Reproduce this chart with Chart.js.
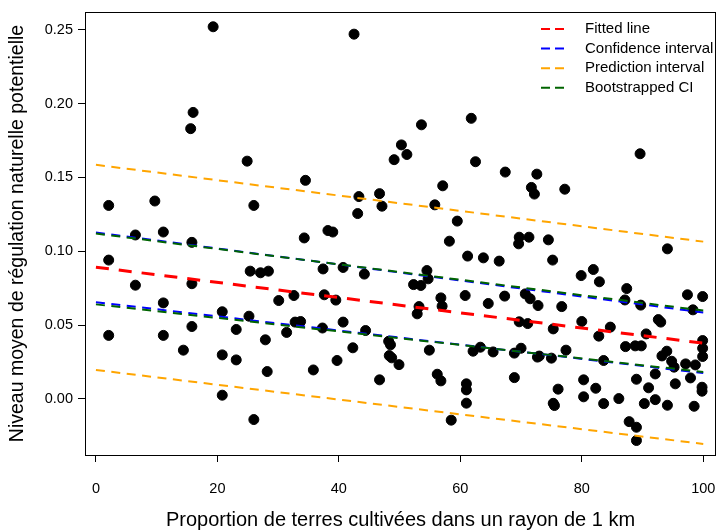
<!DOCTYPE html>
<html lang="fr">
<head>
    <meta charset="UTF-8">
    <title>Régulation naturelle potentielle</title>
    <script src="https://cdn.jsdelivr.net/npm/chart.js"></script>
    <style>
        body {
            margin: 0;
            padding: 0;
            background: white;
        }
        .chart-box {
            width: 717px;
            height: 530px;
        }
    </style>
</head>
<body>
    <div class="chart-box">
        <canvas id="regChart" width="717" height="530"></canvas>
    </div>

    <script>
        // observed points (proportion cultivated, regulation level)
        const xObs = [
            2.1, 2.1, 2.1, 9.7, 6.5, 11.1, 6.5, 11.1, 11.1, 14.4,
            16.0, 15.6, 19.3, 24.9, 26.0, 15.8, 15.8, 15.8, 25.4, 27.1,
            28.4, 32.6, 30.1, 20.8, 25.2, 23.1, 27.9, 31.4, 32.8, 20.8,
            23.1, 28.2, 20.8, 26.0, 42.5, 50.3, 49.1, 34.5, 46.7, 43.3,
            47.1, 43.1, 38.2, 39.0, 34.3, 37.4, 40.7, 44.2, 37.6, 39.5,
            33.7, 37.3, 40.7, 44.4, 42.3, 48.2, 48.5, 48.3, 48.7, 49.9,
            39.7, 35.8, 46.7, 53.6, 61.8, 51.2, 62.5, 67.4, 57.1, 55.8,
            59.5, 58.2, 61.2, 63.8, 66.4, 54.5, 54.7, 52.3, 53.5, 67.3,
            60.8, 64.6, 56.8, 57.0, 53.2, 52.9, 54.9, 62.1, 63.3, 65.4,
            56.2, 56.8, 61.0, 61.0, 61.0, 58.5, 72.6, 71.7, 72.2, 77.2,
            69.7, 71.3, 69.6, 74.5, 75.2, 79.9, 81.9, 82.9, 70.7, 71.5,
            72.8, 76.7, 69.7, 71.1, 75.3, 80.0, 82.8, 84.7, 68.9, 70.0,
            72.7, 73.0, 75.0, 77.4, 83.6, 68.9, 76.1, 75.3, 75.5, 80.3,
            80.3, 82.3, 83.6, 89.6, 94.1, 87.4, 87.1, 89.7, 97.4, 99.9,
            98.3, 92.6, 93.0, 90.6, 87.2, 88.8, 89.8, 94.0, 93.2, 94.8,
            95.2, 97.1, 98.7, 99.9, 99.9, 99.9, 92.1, 97.9, 95.4, 89.0,
            91.0, 99.8, 99.8, 86.1, 90.3, 92.1, 94.1, 98.5, 87.8, 89.0,
            89.0
        ];
        const yObs = [
            0.131, 0.094, 0.043, 0.134, 0.111, 0.113, 0.077, 0.065, 0.043, 0.033,
            0.194, 0.183, 0.252, 0.161, 0.131, 0.106, 0.078, 0.049, 0.0865, 0.0854,
            0.0865, 0.070, 0.0666, 0.059, 0.056, 0.047, 0.040, 0.045, 0.052, 0.0298,
            0.0264, 0.0185, 0.0025, -0.014, 0.247, 0.172, 0.162, 0.148, 0.139, 0.137,
            0.1305, 0.1255, 0.114, 0.113, 0.109, 0.088, 0.089, 0.0845, 0.0705, 0.0669,
            0.0524, 0.048, 0.052, 0.0463, 0.0346, 0.039, 0.0366, 0.0293, 0.0278, 0.0232,
            0.026, 0.0196, 0.0129, 0.1856, 0.190, 0.1655, 0.1606, 0.1536, 0.1443, 0.1314,
            0.1204, 0.1068, 0.0967, 0.0955, 0.0933, 0.0869, 0.0813, 0.0774, 0.0768, 0.0696,
            0.070, 0.0646, 0.0684, 0.0628, 0.0625, 0.0576, 0.033, 0.0323, 0.035, 0.0318,
            0.0167, 0.0122, 0.0102, 0.0061, -0.0029, -0.0144, 0.1522, 0.1432, 0.1387, 0.142,
            0.1095, 0.1095, 0.105, 0.1077, 0.094, 0.0835, 0.0876, 0.0793, 0.0711, 0.0678,
            0.0632, 0.0625, 0.0522, 0.051, 0.0474, 0.0524, 0.0425, 0.0486, 0.031, 0.0343,
            0.0283, 0.029, 0.0276, 0.033, 0.026, 0.0144, 0.0066, -0.003, -0.0045, 0.0129,
            0.0014, 0.0072, -0.0032, 0.166, 0.1016, 0.0747, 0.067, 0.0635, 0.0705, 0.0693,
            0.0603, 0.0537, 0.052, 0.044, 0.0354, 0.0359, 0.0359, 0.0323, 0.0291, 0.0255,
            0.0215, 0.0237, 0.023, 0.0395, 0.0343, 0.0287, 0.0169, 0.0142, 0.0102, 0.0133,
            0.0075, 0.0079, 0.0052, 0.0002, -0.0032, -0.0005, -0.0043, -0.005, -0.0154, -0.0192,
            -0.0282
        ];

        // regression lines, evaluated at both ends of lineX
        const lineX = [0, 100];
        const fitted = [0.0892, 0.0377];
        const ciUpper = [0.1127, 0.0585];
        const ciLower = [0.0655, 0.0175];
        const piUpper = [0.1585, 0.1065];
        const piLower = [0.0196, -0.0305];
        const bootUpper = [0.1120, 0.0598];
        const bootLower = [0.0640, 0.0182];

        const xTicks = [0, 20, 40, 60, 80, 100];
        const yTicks = [0, 0.05, 0.10, 0.15, 0.20, 0.25];

        const fontFam = "'Liberation Sans', Arial, sans-serif";

        function linePts(vals) {
            return lineX.map((x, i) => ({ x: x, y: vals[i] }));
        }

        function dashed(label, vals, color, width, dash, inLegend) {
            return {
                type: 'line',
                label: label,
                data: linePts(vals),
                borderColor: color,
                borderWidth: width,
                borderDash: dash,
                pointRadius: 0,
                fill: false,
                inLegend: inLegend
            };
        }

        const datasets = [
            dashed('Bootstrapped CI', bootUpper, '#006400', 2, [9, 6.5], true),
            dashed('', bootLower, '#006400', 2, [9, 6.5], false),
            dashed('Prediction interval', piUpper, '#FFA500', 2, [9, 6.5], true),
            dashed('', piLower, '#FFA500', 2, [9, 6.5], false),
            dashed('Confidence interval', ciUpper, '#0000FF', 2, [9, 6.5], true),
            dashed('', ciLower, '#0000FF', 2, [9, 6.5], false),
            dashed('Fitted line', fitted, '#FF0000', 3, [13, 10], true),
            {
                type: 'scatter',
                label: 'obs',
                data: xObs.map((x, i) => ({ x: x, y: yObs[i] })),
                backgroundColor: '#000',
                borderColor: '#000',
                pointRadius: 5,
                pointHoverRadius: 5
            }
        ];

        // box around the plot + R style legend (top right, no frame)
        const boxAndLegend = {
            id: 'boxAndLegend',
            afterDraw(chart) {
                const ctx = chart.ctx;
                const a = chart.chartArea;
                ctx.save();
                ctx.strokeStyle = '#000';
                ctx.lineWidth = 1;
                ctx.strokeRect(Math.round(a.left) + 0.5, Math.round(a.top) + 0.5,
                    Math.round(a.right - a.left) - 1, Math.round(a.bottom - a.top));

                const items = chart.data.datasets.filter(d => d.inLegend).reverse();
                ctx.font = '15px ' + fontFam;
                ctx.textBaseline = 'middle';
                ctx.textAlign = 'left';
                items.forEach((d, i) => {
                    const y = a.top + 17 + i * 19.6;
                    const x0 = a.right - 175;
                    ctx.strokeStyle = d.borderColor;
                    ctx.lineWidth = 2;
                    ctx.setLineDash([9, 5]);
                    ctx.beginPath();
                    ctx.moveTo(x0, y);
                    ctx.lineTo(x0 + 25, y);
                    ctx.stroke();
                    ctx.setLineDash([]);
                    ctx.fillStyle = '#000';
                    ctx.fillText(d.label, a.right - 131, y);
                });
                ctx.restore();
            }
        };

        new Chart(document.getElementById('regChart'), {
            data: { datasets: datasets },
            options: {
                responsive: false,
                animation: false,
                events: [],
                layout: {
                    autoPadding: false,
                    padding: { top: 12, right: 1, left: 0, bottom: 0 }
                },
                plugins: {
                    legend: { display: false },
                    tooltip: { enabled: false }
                },
                scales: {
                    x: {
                        type: 'linear',
                        min: -1.8,
                        max: 102.1,
                        afterFit: s => {
                            s.height = 75;
                            s.paddingLeft = 0;
                            s.paddingRight = 0;
                        },
                        afterBuildTicks: s => { s.ticks = xTicks.map(v => ({ value: v })); },
                        border: { display: false },
                        grid: {
                            drawOnChartArea: false,
                            drawTicks: true,
                            tickLength: 7,
                            color: '#000'
                        },
                        ticks: {
                            color: '#000',
                            padding: 18,
                            maxRotation: 0,
                            font: { family: fontFam, size: 14.5 },
                            callback: v => String(v)
                        },
                        title: {
                            display: true,
                            text: 'Proportion de terres cultivées dans un rayon de 1 km',
                            color: '#000',
                            font: { family: fontFam, size: 20, lineHeight: 1 },
                            padding: { top: 0, bottom: 0 }
                        }
                    },
                    y: {
                        type: 'linear',
                        min: -0.038,
                        max: 0.262,
                        afterFit: s => {
                            s.width = 85;
                            s.paddingTop = 0;
                            s.paddingBottom = 0;
                        },
                        afterBuildTicks: s => { s.ticks = yTicks.map(v => ({ value: v })); },
                        border: { display: false },
                        grid: {
                            drawOnChartArea: false,
                            drawTicks: true,
                            tickLength: 7,
                            color: '#000'
                        },
                        ticks: {
                            color: '#000',
                            padding: 5,
                            font: { family: fontFam, size: 14.5 },
                            callback: v => v.toFixed(2)
                        },
                        title: {
                            display: true,
                            text: 'Niveau moyen de régulation naturelle potentielle',
                            color: '#000',
                            font: { family: fontFam, size: 19.5, lineHeight: 1 },
                            padding: { top: 8, bottom: 0 }
                        }
                    }
                }
            },
            plugins: [boxAndLegend]
        });
    </script>
</body>
</html>
